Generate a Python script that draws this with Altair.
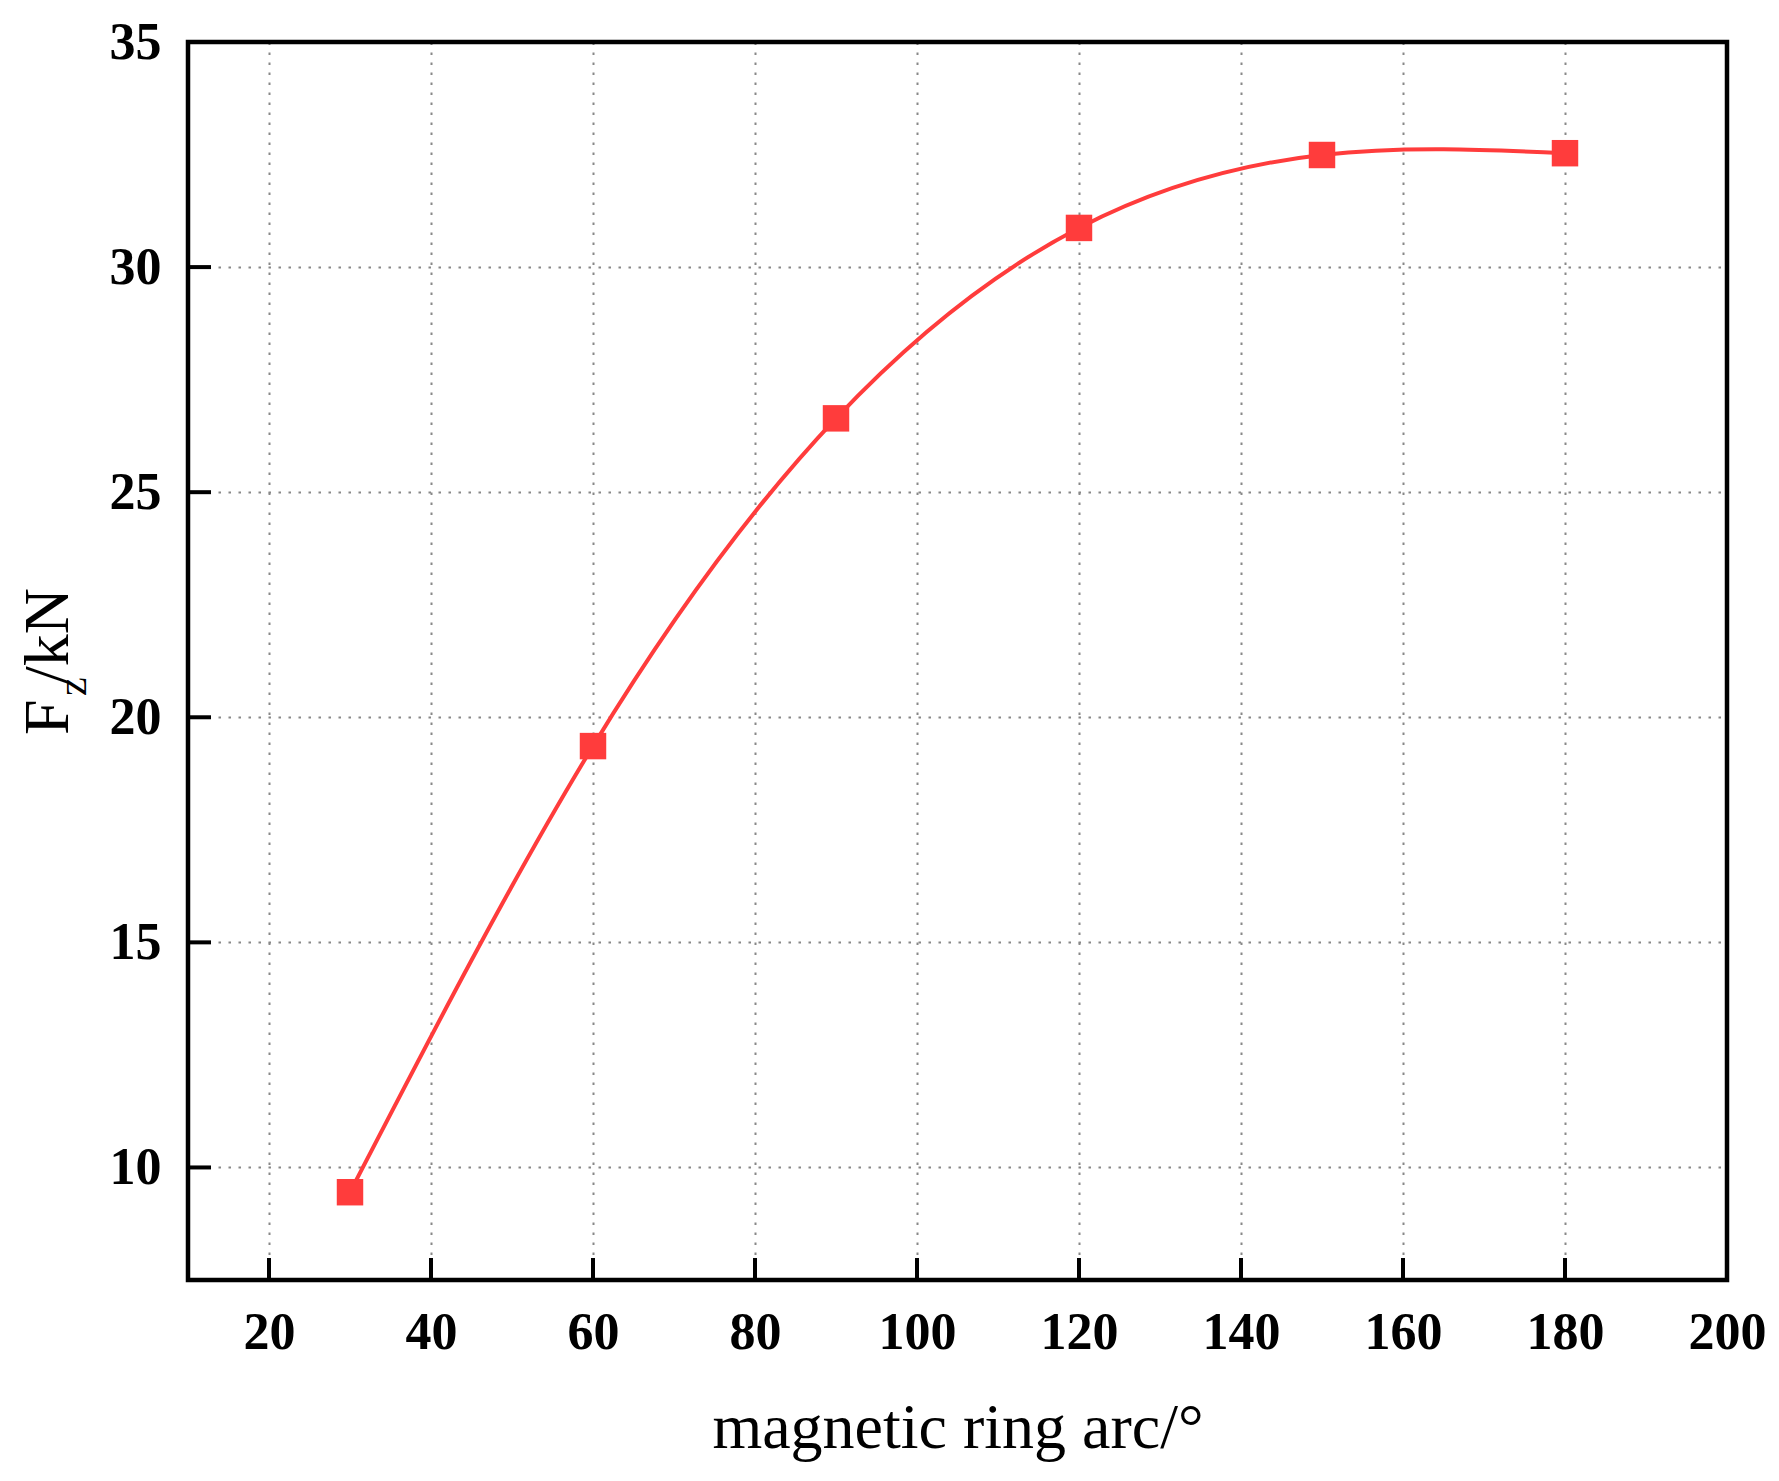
import altair as alt
import pandas as pd

# data
arc = [30, 60, 90, 120, 150, 180]
fz = [9.45, 19.36, 26.64, 30.87, 32.49, 32.53]
x_tick_values = [20, 40, 60, 80, 100, 120, 140, 160, 180, 200]
y_tick_values = [10, 15, 20, 25, 30, 35]

RED = "#ff3c3c"
FONT = "Liberation Serif"
W, H = 1539, 1238

df = pd.DataFrame({"arc": arc, "fz": fz})
xt = pd.DataFrame({"arc": x_tick_values})
yt = pd.DataFrame({"fz": y_tick_values})
one = pd.DataFrame({"k": [0]})

xscale = alt.Scale(domain=[10, 200], nice=False, zero=False)
yscale = alt.Scale(domain=[7.5, 35], nice=False, zero=False)

xaxis = alt.Axis(
    values=x_tick_values, grid=True, gridColor="#888888", gridDash=[2.5, 7.5],
    gridWidth=2, ticks=False, tickSize=0, domain=False,
    labelFont=FONT, labelFontSize=52, labelFontWeight="bold", labelColor="black",
    labelPadding=27, labelFlush=False, labelOverlap=False,
    title="magnetic ring arc/°", titleFont=FONT, titleFontSize=64,
    titleFontWeight="normal", titleColor="black", titleY=167,
    titleBaseline="alphabetic",
)
yaxis = alt.Axis(
    values=y_tick_values, grid=True, gridColor="#888888", gridDash=[2.5, 7.5],
    gridWidth=2, ticks=False, tickSize=0, domain=False,
    labelFont=FONT, labelFontSize=52, labelFontWeight="bold", labelColor="black",
    labelPadding=27, labelOverlap=False, title="",
)

line = alt.Chart(df).mark_line(interpolate="natural", color=RED, strokeWidth=4).encode(
    x=alt.X("arc:Q", scale=xscale, axis=xaxis),
    y=alt.Y("fz:Q", scale=yscale, axis=yaxis),
)
points = alt.Chart(df).mark_point(shape="square", filled=True, size=700, color=RED, opacity=1).encode(
    x="arc:Q", y="fz:Q"
)
xticks = alt.Chart(xt).mark_rule(color="black", strokeWidth=4).encode(
    x="arc:Q", y=alt.value(H), y2=alt.value(H - 22)
)
yticks = alt.Chart(yt).mark_rule(color="black", strokeWidth=4).encode(
    y="fz:Q", x=alt.value(0), x2=alt.value(23)
)
frame = alt.Chart(one).mark_rect(fillOpacity=0, stroke="black", strokeWidth=4.5).encode(
    x=alt.value(0), x2=alt.value(W), y=alt.value(0), y2=alt.value(H)
)

t_f = alt.Chart(one).mark_text(
    text="F", font=FONT, fontSize=64, angle=270, align="left", baseline="alphabetic", color="black"
).encode(x=alt.value(-120), y=alt.value(693))
t_z = alt.Chart(one).mark_text(
    text="z", font=FONT, fontSize=42, angle=270, align="left", baseline="alphabetic", dy=18, color="black"
).encode(x=alt.value(-120), y=alt.value(654))
t_kn = alt.Chart(one).mark_text(
    text="/kN", font=FONT, fontSize=64, angle=270, align="left", baseline="alphabetic", color="black"
).encode(x=alt.value(-120), y=alt.value(642))

chart = alt.layer(line, points, xticks, yticks, frame, t_f, t_z, t_kn).properties(
    width=W, height=H,
    autosize=alt.AutoSizeParams(type="none"),
    padding={"left": 180, "top": 34, "right": 44, "bottom": 185},
    background="white",
).configure_view(stroke=None)

chart.save("out.html", embed_options={"renderer": "svg", "actions": False})
